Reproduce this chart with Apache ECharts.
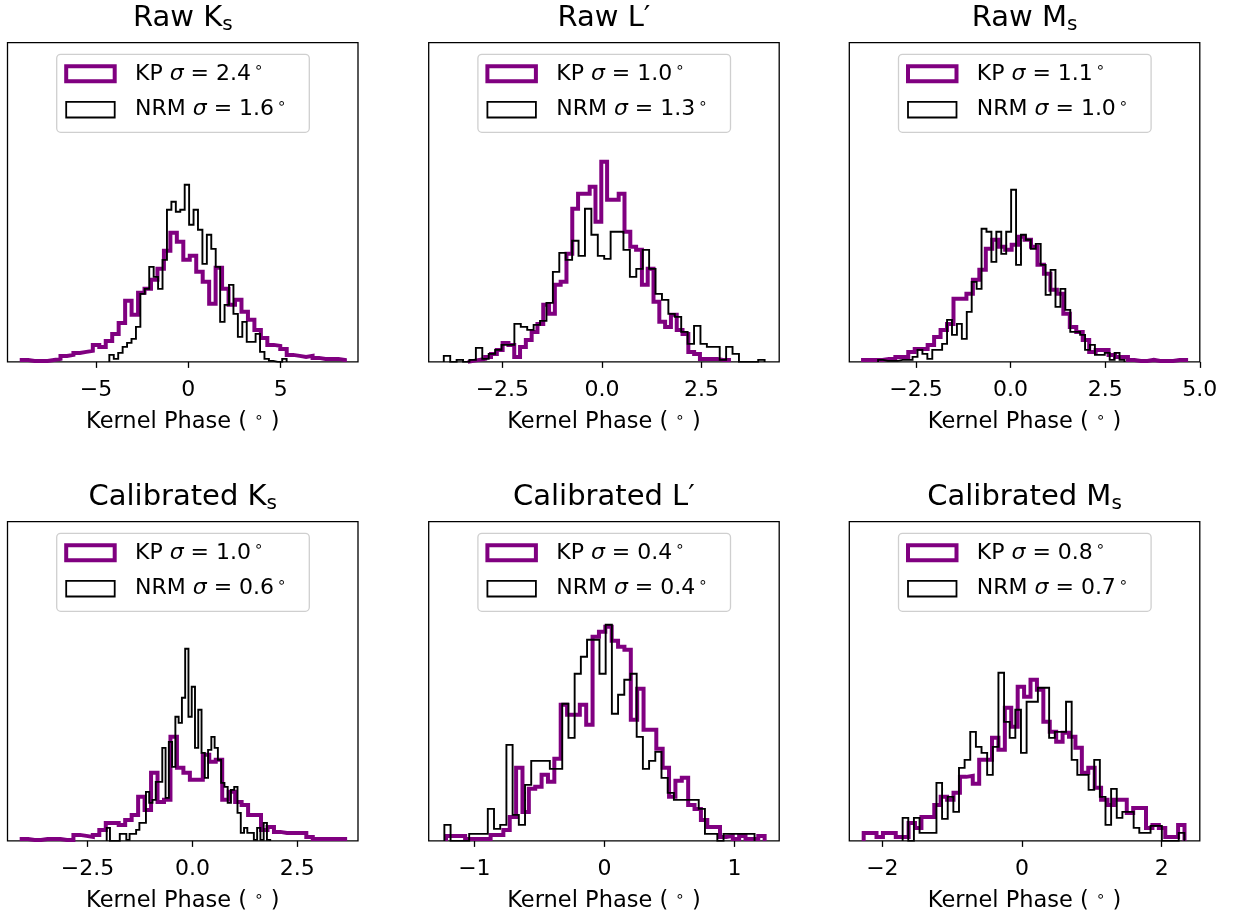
<!DOCTYPE html>
<html><head><meta charset="utf-8">
<script src="https://cdn.jsdelivr.net/npm/echarts@6/dist/echarts.min.js"></script>
<style>html,body{margin:0;padding:0;background:#fff}#c{width:1235px;height:920px}</style>
</head><body><div id="c"></div>
<script>
// ---------- DATA (histogram counts, relative units) ----------
const titles = ['Raw K|s', 'Raw L\u2032|', 'Raw M|s', 'Calibrated K|s', 'Calibrated L\u2032|', 'Calibrated M|s'];
const kpSigma  = ['2.4', '1.0', '1.1', '1.0', '0.4', '0.8'];
const nrmSigma = ['1.6', '1.3', '1.0', '0.6', '0.4', '0.7'];

// Raw Ks
const tlKpStart = -9.02, tlKpWidth = 0.350;
const tlKp = [2,1,1,1,2,3,6,7,9,10,11,17,15,21,28,39,61,47,69,73,82,93,111,129,120,102,106,90,80,58,94,73,57,62,50,42,32,24,17,16,13,7,6,5,6,4,3,3,3,2];
const tlNrmStart = -4.275, tlNrmWidth = 0.240;
const tlNrm = [7,3,9,15,19,23,35,68,73,95,85,73,102,152,160,150,152,177,137,152,132,98,127,113,95,40,57,77,48,25,40,20,20,28,10,3,1,0,0,3];
// Raw L'
const tmKpStart = -3.368, tmKpWidth = 0.1457;
const tmKp = [1,2,3,5,8,12,19,17,5,15,22,30,38,57,48,77,80,108,153,168,168,175,140,200,162,162,168,130,115,112,77,93,60,40,35,47,32,28,10,8,3,3,3,2,2];
const tmNrmStart = -3.971, tmNrmWidth = 0.1611;
const tmNrm = [6,0,2,0,2,14,3,8,12,17,17,38,35,32,37,41,59,90,109,102,121,106,153,127,106,103,130,130,112,85,93,112,93,68,62,48,45,30,18,36,18,15,15,2,15,8,0,0,0,2];
// Raw Ms
const trKpStart = -3.897, trKpWidth = 0.1707;
const trKp = [2,2,2,3,3,5,5,10,13,13,17,25,32,38,63,63,68,82,92,113,122,115,112,117,125,122,115,97,88,72,68,48,35,30,22,10,12,12,7,5,5,2,1,1,2,1,1,1,2,2];
const trNrmStart = -3.50, trNrmWidth = 0.1302;
const trNrm = [2,1,1,1,2,2,2,5,12,8,3,12,12,18,42,27,38,23,50,80,73,133,130,100,130,108,130,172,97,127,122,113,118,97,67,92,55,73,52,30,30,27,12,17,7,7,9,2,9,2];
// Calibrated Ks
const blKpStart = -4.072, blKpWidth = 0.1543;
const blKp = [2,1,1,2,2,2,1,1,6,5,4,6,11,18,18,16,21,26,44,31,68,39,41,104,73,68,61,61,86,79,81,41,49,39,36,26,26,11,14,9,8,8,8,8,4,2,2,2,2,2];
const blNrmStart = -2.044, blNrmWidth = 0.078;
const blNrm = [13,0,0,0,7,7,1,7,7,11,18,18,49,38,41,59,59,93,43,99,74,124,118,143,192,124,154,93,131,88,63,91,104,93,81,58,54,38,51,54,28,8,13,8,8,1,13,1,18,1];
// Calibrated L'
const bmKpStart = -1.218, bmKpWidth = 0.049;
const bmKp = [5,5,5,2,2,2,2,6,6,11,24,73,29,52,54,66,59,82,136,126,126,136,116,204,209,214,200,194,191,121,152,111,111,92,73,44,60,63,36,32,21,14,14,4,5,2,5,2,2,5];
const bmNrmStart = -1.2305, bmNrmWidth = 0.0477;
const bmNrm = [16,0,0,0,7,7,7,32,12,16,96,26,16,56,80,80,80,72,72,137,103,167,184,201,201,167,216,127,146,161,167,104,72,80,89,63,48,41,41,41,41,32,7,7,0,7,7,7,7,7];
// Calibrated Ms
const brKpStart = -2.268, brKpWidth = 0.0919;
const brKp = [8,8,4,8,8,4,4,18,13,24,24,36,44,41,48,64,65,57,81,81,103,91,133,114,154,144,161,151,119,109,99,108,104,93,68,73,53,41,36,41,41,28,33,33,13,16,13,4,4,16];
const brNrmStart = -1.710, brNrmWidth = 0.0807;
const brNrm = [23,0,23,8,8,8,58,22,44,29,73,81,109,94,88,66,94,168,119,103,131,88,139,139,153,153,103,109,109,139,81,66,66,51,81,44,16,52,23,29,29,13,8,8,15,15,0,0,0,8];

// x-axis ranges and ticks
const xMins = [-9.79, -4.35, -4.26, -4.41, -1.351, -2.474];
const xMaxs = [9.19, 4.45, 5.0, 3.95, 1.344, 2.546];
const tickValues = [[-5,0,5],[-2.5,0,2.5],[-2.5,0,2.5,5],[-2.5,0,2.5],[-1,0,1],[-2,0,2]];
const tickLabels = [['\u22125','0','5'],['\u22122.5','0.0','2.5'],['\u22122.5','0.0','2.5','5.0'],['\u22122.5','0.0','2.5'],['\u22121','0','1'],['\u22122','0','2']];
const yMax = 319;

// ---------- BUILD ----------
const kpSets = [[tlKpStart,tlKpWidth,tlKp],[tmKpStart,tmKpWidth,tmKp],[trKpStart,trKpWidth,trKp],[blKpStart,blKpWidth,blKp],[bmKpStart,bmKpWidth,bmKp],[brKpStart,brKpWidth,brKp]];
const nrmSets = [[tlNrmStart,tlNrmWidth,tlNrm],[tmNrmStart,tmNrmWidth,tmNrm],[trNrmStart,trNrmWidth,trNrm],[blNrmStart,blNrmWidth,blNrm],[bmNrmStart,bmNrmWidth,bmNrm],[brNrmStart,brNrmWidth,brNrm]];

function stepPoints(start, width, counts) {
  const pts = [[start, 0]];
  counts.forEach((c, i) => {
    const x0 = start + i * width, x1 = start + (i + 1) * width;
    pts.push([x0, c], [x1, c]);
  });
  pts.push([start + counts.length * width, 0]);
  return pts;
}

const FONT = 'DejaVu Sans';
const PURPLE = '#800080';
const colLeft = [7.5, 428.7, 849.3];
const rowTop = [42.7, 521.7];
const AW = 350.5, AH = 319.2;

const grids = [], xAxes = [], yAxes = [], series = [], graphics = [];
for (let i = 0; i < 6; i++) {
  const col = i % 3, row = Math.floor(i / 3);
  const L = colLeft[col], T = rowTop[row];
  grids.push({left: L, top: T, width: AW, height: AH, show: true, borderColor: '#000', borderWidth: 1.3, backgroundColor: 'transparent'});
  const tv = tickValues[i], tl = tickLabels[i];
  xAxes.push({
    type: 'value', gridIndex: i, min: xMins[i], max: xMaxs[i],
    axisLine: {show: false},
    splitLine: {show: false},
    axisTick: {show: true, length: 6, lineStyle: {color: '#000', width: 1.3}, customValues: tv},
    axisLabel: {show: true, customValues: tv, margin: 17, color: '#000', fontFamily: FONT, fontSize: 22,
      formatter: v => { let best = 0; tv.forEach((t, k) => { if (Math.abs(t - v) < Math.abs(tv[best] - v)) best = k; }); return tl[best]; }},
    name: 'Kernel Phase ( {u|\u2218} )', nameLocation: 'middle', nameGap: 49,
    nameTextStyle: {color: '#000', fontFamily: FONT, fontSize: 22.5,
      rich: {u: {fontSize: 15, fontFamily: FONT, color: '#000', verticalAlign: 'top', lineHeight: 15}}}
  });
  yAxes.push({type: 'value', gridIndex: i, min: 0, max: yMax, show: false});
  const k = kpSets[i], n = nrmSets[i];
  series.push({type: 'line', xAxisIndex: i, yAxisIndex: i, data: stepPoints(k[0], k[1], k[2]), symbol: 'none', animation: false,
    lineStyle: {color: PURPLE, width: 4, join: 'miter', cap: 'butt'}, z: 2});
  series.push({type: 'line', xAxisIndex: i, yAxisIndex: i, data: stepPoints(n[0], n[1], n[2]), symbol: 'none', animation: false,
    lineStyle: {color: '#000', width: 1.9, join: 'miter', cap: 'butt'}, z: 3});

  // title
  const parts = titles[i].split('|');
  graphics.push({type: 'text', x: L + AW / 2, y: T - 24, z: 10,
    style: {text: '{m|' + parts[0] + '}' + (parts[1] ? '{s|' + parts[1] + '}' : ''), align: 'center', verticalAlign: 'middle',
      rich: {m: {fontSize: 29, fontFamily: FONT, fill: '#000', lineHeight: 33},
             s: {fontSize: 20, fontFamily: FONT, fill: '#000', lineHeight: 20, verticalAlign: 'bottom'}}}});

  // legend
  const bx = L + 49.2, by = T + 11.6;
  const legRich = {t: {fontSize: 22, fontFamily: FONT, fill: '#000', lineHeight: 26},
                   i: {fontSize: 22, fontFamily: FONT, fontStyle: 'italic', fill: '#000', lineHeight: 26},
                   u: {fontSize: 15, fontFamily: FONT, fill: '#000', lineHeight: 15, verticalAlign: 'top', padding: [0, 0, 0, 3]}};
  graphics.push({type: 'group', x: bx, y: by, z: 20, children: [
    {type: 'rect', shape: {x: 0, y: 0, width: 252.6, height: 78, r: 4}, style: {fill: 'rgba(255,255,255,0.8)', stroke: '#cfcfcf', lineWidth: 1.3}},
    {type: 'rect', shape: {x: 9.5, y: 12, width: 48.5, height: 15}, style: {fill: 'transparent', stroke: PURPLE, lineWidth: 4}},
    {type: 'rect', shape: {x: 9.5, y: 47.6, width: 48.5, height: 15.6}, style: {fill: 'transparent', stroke: '#000', lineWidth: 1.8}},
    {type: 'text', x: 78.3, y: 19.5, style: {text: '{t|KP }{i|\u03c3}{t| = ' + kpSigma[i] + '}{u|\u2218}', verticalAlign: 'middle', align: 'left', rich: legRich}},
    {type: 'text', x: 78.3, y: 55.4, style: {text: '{t|NRM }{i|\u03c3}{t| = ' + nrmSigma[i] + '}{u|\u2218}', verticalAlign: 'middle', align: 'left', rich: legRich}}
  ]});
}

const chart = echarts.init(document.getElementById('c'), null, {renderer: 'canvas'});
chart.setOption({
  backgroundColor: '#fff',
  animation: false,
  grid: grids, xAxis: xAxes, yAxis: yAxes, series: series, graphic: graphics
});
</script></body></html>
